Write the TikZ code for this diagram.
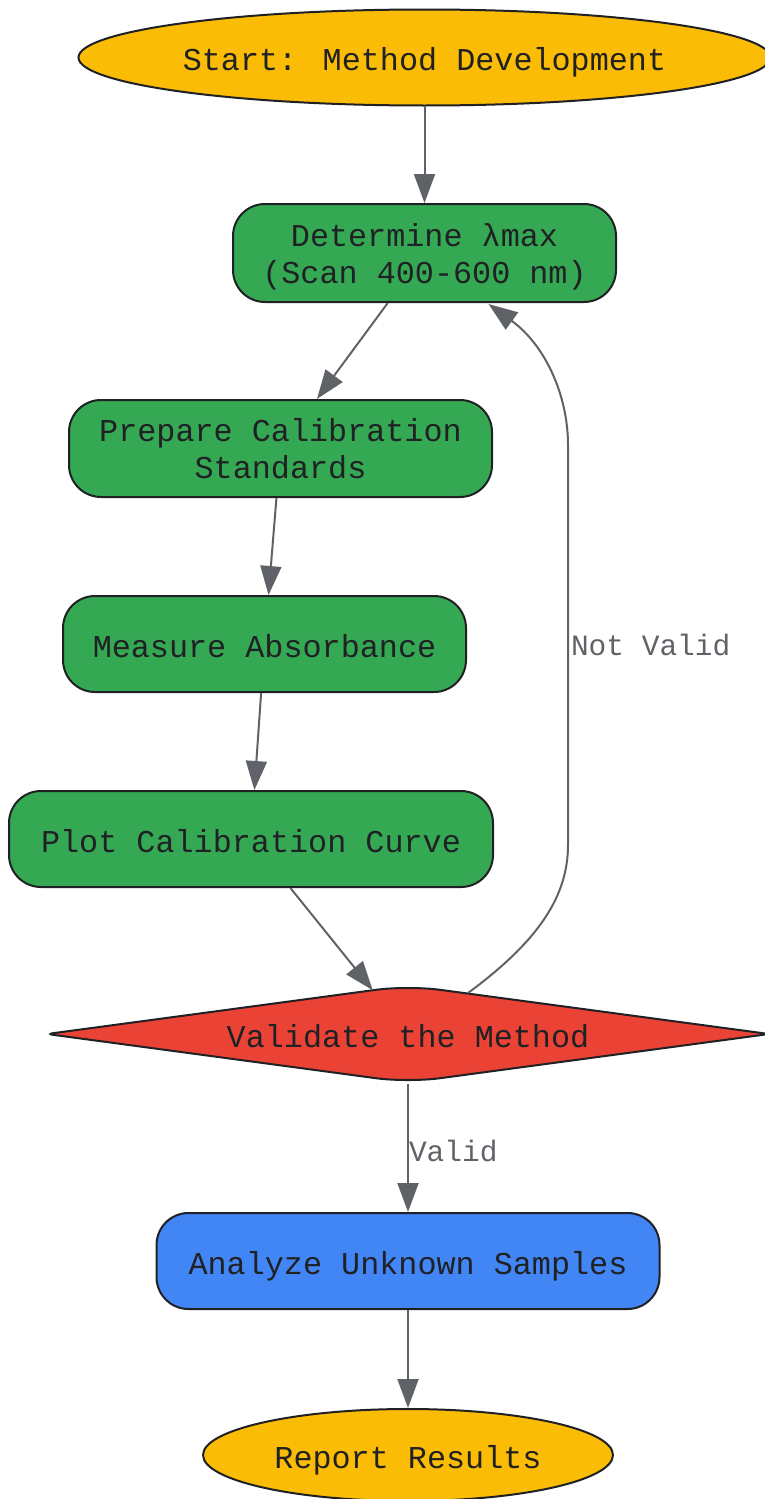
\documentclass[tikz,border=0pt]{standalone}
\usepackage{fontspec}
\newfontfamily\monofont{Liberation Mono}
\usetikzlibrary{arrows.meta,shapes.geometric,calc,backgrounds}
\definecolor{gyellow}{HTML}{FBBC05}
\definecolor{ggreen}{HTML}{34A853}
\definecolor{gred}{HTML}{EA4335}
\definecolor{gblue}{HTML}{4285F4}
\definecolor{ink}{HTML}{202124}
\definecolor{edgegray}{HTML}{5F6368}
\begin{document}
\begin{tikzpicture}[x=1pt,y=-1pt,
  base/.style={draw=ink,line width=2pt,text=ink,inner sep=0pt,align=center,text depth=0pt,
    font=\monofont\fontsize{31.8}{37}\selectfont},
  one/.style={text height=26pt},
  term/.style={base,one,ellipse,fill=gyellow},
  proc/.style={base,rectangle,rounded corners=32pt,fill=ggreen},
  blueproc/.style={proc,fill=gblue},
  decision/.style={base,one,diamond,draw=none,aspect=7.9},
  decisionshape/.style={draw=ink,line width=2pt,fill=gred},
  arr/.style={draw=edgegray,line width=2pt,-{Triangle[length=29pt,width=21pt]}},
  lbl/.style={text=edgegray,inner sep=0pt,font=\monofont\fontsize{29.5}{34}\selectfont}]
\useasboundingbox (0,0) rectangle (765,1499);
\node[term,minimum width=692pt,minimum height=96pt] (start) at (424.5,57.5) {Start: Method Development};
\node[proc,minimum width=383pt,minimum height=98pt] (det) at (424.5,253) {Determine λmax\\(Scan 400-600 nm)};
\node[proc,minimum width=423pt,minimum height=97pt] (prep) at (280.5,448.5) {Prepare Calibration\\Standards};
\node[proc,one,minimum width=403pt,minimum height=96pt] (meas) at (264.5,644) {Measure Absorbance};
\node[proc,one,minimum width=484pt,minimum height=96pt] (plot) at (251,839) {Plot Calibration Curve};
\node[decision,minimum width=720pt,minimum height=95pt] (val) at (408,1034) {Validate the Method};
\begin{pgfonlayer}{background}
\path[decisionshape] ($(val.west)!0.5!(val.north)$) [rounded corners=32pt] -- (val.north)
  -- ($(val.north)!0.5!(val.east)$) [rounded corners=6pt] -- (val.east)
  -- ($(val.east)!0.5!(val.south)$) [rounded corners=32pt] -- (val.south)
  -- ($(val.south)!0.5!(val.west)$) [rounded corners=6pt] -- (val.west)
  -- cycle;
\end{pgfonlayer}
\node[blueproc,one,minimum width=503pt,minimum height=96pt] (ana) at (408,1261) {Analyze Unknown Samples};
\node[term,minimum width=410pt,minimum height=92pt] (rep) at (408,1455) {Report Results};

\draw[arr] (start) -- (det);
\draw[arr] (det) -- (prep);
\draw[arr] (prep) -- (meas);
\draw[arr] (meas) -- (plot);
\draw[arr] (plot) -- (val);
\draw[arr] ([yshift=-1pt]val.south) -- node[lbl,pos=0.5,anchor=west,yshift=-3pt] {Valid} (ana.north);
\draw[arr] (ana) -- (rep);
\draw[arr] ($(val.center)+(60,-41)$) .. controls (540,940) and (568,895) .. (568,845)
  -- node[lbl,pos=0.5,anchor=west,xshift=2pt] {Not Valid} (568,445)
  .. controls (568,395) and (545,345) .. ($(det.south)+(64,1)$);
\end{tikzpicture}
\end{document}
